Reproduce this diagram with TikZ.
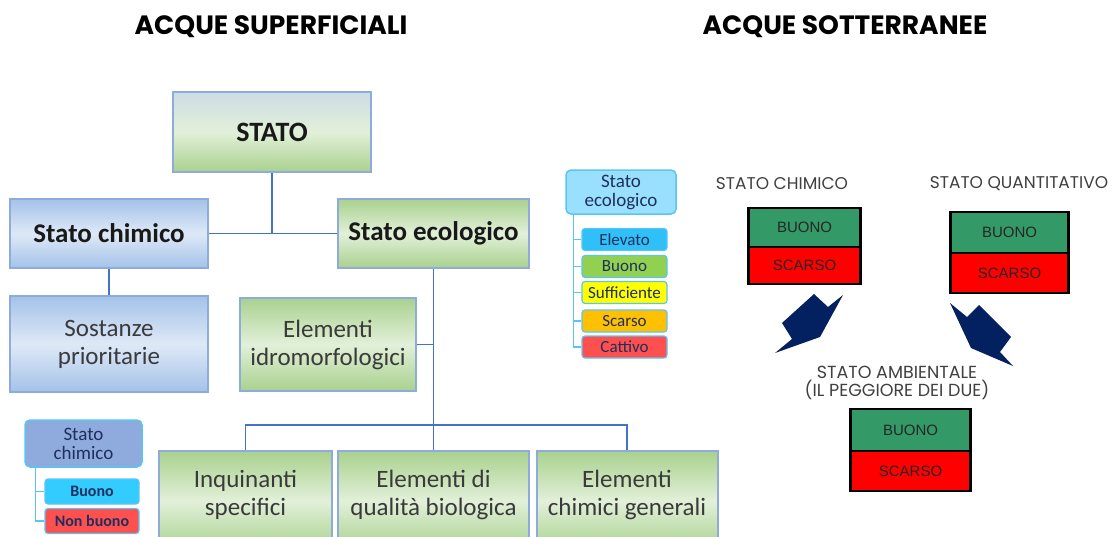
\documentclass[tikz,border=0pt]{standalone}
\usepackage{fontspec}
\setmainfont{Carlito}
\newfontfamily\headfont{Poppins}
\newfontfamily\arialfont{Liberation Sans}
\definecolor{linkblue}{HTML}{4472C4}
\definecolor{boxedge}{HTML}{8FAADC}
\definecolor{gtop}{HTML}{A9D18E}
\definecolor{gmid}{HTML}{E2F0D9}
\definecolor{stop}{HTML}{CCDCE4}
\definecolor{btop}{HTML}{A4C2E8}
\definecolor{bmid}{HTML}{DEE9F7}
\definecolor{txtgray}{HTML}{3A3A3A}
\definecolor{legedge}{HTML}{5BC5F2}
\definecolor{navytxt}{HTML}{1F2F5F}
\definecolor{hdchim}{HTML}{8FAADC}
\definecolor{hdeco}{HTML}{99E0FF}
\definecolor{cElev}{HTML}{2FC0F7}
\definecolor{cBuonoC}{HTML}{33CCFF}
\definecolor{cBuonoE}{HTML}{92D050}
\definecolor{cSuff}{HTML}{FFFF00}
\definecolor{cScar}{HTML}{FFC000}
\definecolor{cCatt}{HTML}{FF5050}
\definecolor{okgreen}{HTML}{339966}
\definecolor{arrownavy}{HTML}{032060}
\tikzset{
  conn/.style={draw=linkblue, line width=1.5pt},
  boxbase/.style={draw=boxedge, line width=2pt, inner sep=2pt, align=center},
  greenbox/.style={boxbase, top color=gtop, bottom color=gtop, middle color=gmid},
  bluebox/.style={boxbase, top color=btop, bottom color=btop, middle color=bmid},
  boldlbl/.style={font=\fontsize{27}{30}\selectfont\bfseries, text=black!90},
  plainlbl/.style={font=\fontsize{25}{28}\selectfont, text=txtgray},
  leghead/.style={draw=legedge, line width=1.5pt, rounded corners=5pt, align=center,
    font=\fontsize{19}{19}\selectfont, text=navytxt, inner sep=0pt},
  legitem/.style={draw=legedge, line width=1.2pt, rounded corners=3pt, inner sep=0pt,
    font=\fontsize{17}{18}\selectfont, text=navytxt},
  legline/.style={draw=legedge, line width=1.2pt},
  halfgood/.style={fill=okgreen, draw=black, line width=1pt, inner sep=0pt,
    font=\arialfont\fontsize{15}{18}\selectfont, text=black!85},
  halfbad/.style={halfgood, fill=red},
  frame/.style={draw=black, line width=2.5pt},
  bigarrow/.style={fill=arrownavy, draw=none},
  rlabel/.style={font=\headfont\fontsize{17}{18}\selectfont, text=black!75, align=center},
  title/.style={font=\headfont\bfseries\fontsize{26.5}{30}\selectfont, text=black}
}
\begin{document}
\begin{tikzpicture}[x=1pt, y=-1pt]
\useasboundingbox (0,0) rectangle (1114,536);
\clip (0,0) rectangle (1114,536);

% section titles
\node[title] (tsup) at (271,27) {ACQUE SUPERFICIALI};
\node[title] (tsot) at (845,27) {ACQUE SOTTERRANEE};

% ---------- surface water hierarchy ----------
\node[boxbase, top color=stop, bottom color=gtop, middle color=gmid,
      minimum width=198pt, minimum height=80pt, boldlbl,
      font=\fontsize{28}{30}\selectfont\bfseries] (stato) at (272,132) {STATO};
\node[bluebox, boldlbl, minimum width=198pt, minimum height=69pt] (chim) at (109,233.5) {Stato chimico};
\node[greenbox, boldlbl, minimum width=191pt, minimum height=69pt] (eco) at (433.5,233.5) {Stato ecologico};
\node[bluebox, plainlbl, minimum width=198pt, minimum height=96pt] (sost) at (109,344) {Sostanze\\prioritarie};
\node[greenbox, plainlbl, minimum width=176pt, minimum height=93pt] (idro) at (328,344.5) {Elementi\\idromorfologici};

\node[greenbox, plainlbl, anchor=north, minimum width=173pt, minimum height=100pt, text depth=16pt]
  (inq) at (245.5,450) {Inquinanti\\specifici};
\node[greenbox, plainlbl, anchor=north, minimum width=191pt, minimum height=100pt, text depth=16pt]
  (qual) at (433.5,450) {Elementi di\\qualità biologica};
\node[greenbox, plainlbl, anchor=north, minimum width=181pt, minimum height=100pt, text depth=16pt]
  (chimg) at (627,450) {Elementi\\chimici generali};

\draw[conn] (stato.south) -- (stato.south |- chim.east);
\draw[conn] (chim.east) -- (eco.west);
\draw[conn] (chim.south) -- (sost.north);
\draw[conn] (eco.south) -- (qual.north);
\draw[conn] (idro.east) -- (idro.east -| eco.south);
\draw[conn] (inq.north) -- ++(0,-25) -| (chimg.north);

% legend: chemical status
\node[leghead, fill=hdchim, minimum width=117pt, minimum height=47pt] (lch) at (83.5,443.5) {Stato\\chimico};
\node[legitem, fill=cBuonoC, minimum width=94pt, minimum height=25pt,
      font=\fontsize{16}{18}\selectfont\bfseries] (lchb) at (92,491.5) {Buono};
\node[legitem, fill=cCatt, minimum width=94pt, minimum height=25pt,
      font=\fontsize{16}{18}\selectfont\bfseries] (lchn) at (92,521) {Non buono};
\draw[legline] (lch.south west) ++(11,0) coordinate (lchv) |- (lchn.west);
\draw[legline] (lchv |- lchb.west) -- (lchb.west);

% legend: ecological status
\node[leghead, fill=hdeco, minimum width=110pt, minimum height=44pt] (lec) at (621,192) {Stato\\ecologico};
\node[legitem, fill=cElev, minimum width=85pt, minimum height=22pt] (le1) at (624.5,239.5) {Elevato};
\node[legitem, fill=cBuonoE, minimum width=85pt, minimum height=22pt] (le2) at (624.5,266.5) {Buono};
\node[legitem, fill=cSuff, minimum width=85pt, minimum height=22pt] (le3) at (624.5,292.5) {Sufficiente};
\node[legitem, fill=cScar, minimum width=85pt, minimum height=22pt] (le4) at (624.5,321) {Scarso};
\node[legitem, fill=cCatt, minimum width=85pt, minimum height=22pt] (le5) at (624.5,347) {Cattivo};
\draw[legline] (lec.south west) ++(8,0) coordinate (lecv) |- (le5.west);
\foreach \k in {1,2,3,4} \draw[legline] (lecv |- le\k.west) -- (le\k.west);

% ---------- groundwater ----------
\node[rlabel] (lbchim) at (782,184) {STATO CHIMICO};
\node[rlabel] (lbquan) at (1019,184) {STATO QUANTITATIVO};
\node[rlabel, font=\headfont\fontsize{17.5}{18}\selectfont] (lbamb) at (897,383) {STATO AMBIENTALE\\(IL PEGGIORE DEI DUE)};

\node[halfgood, anchor=south, minimum width=111pt, minimum height=38pt] (c1g) at (804.5,247) {BUONO};
\node[halfbad, anchor=north, minimum width=111pt, minimum height=36pt] (c1r) at (804.5,247) {SCARSO};
\draw[frame] (c1g.north west) rectangle (c1r.south east);

\node[halfgood, anchor=south, minimum width=117pt, minimum height=40pt] (c2g) at (1009.5,253) {BUONO};
\node[halfbad, anchor=north, minimum width=117pt, minimum height=39pt] (c2r) at (1009.5,253) {SCARSO};
\draw[frame] (c2g.north west) rectangle (c2r.south east);

\node[halfgood, anchor=south, minimum width=119pt, minimum height=41pt] (c3g) at (910.5,451) {BUONO};
\node[halfbad, anchor=north, minimum width=119pt, minimum height=39pt] (c3r) at (910.5,451) {SCARSO};
\draw[frame] (c3g.north west) rectangle (c3r.south east);

% block arrows pointing to the combined status
\fill[bigarrow] (775,353) -- (820,337) -- (843,295) -- (828,307) -- (814,294) -- (782,323) -- (792,339) -- cycle;
\fill[bigarrow] (950,303) -- (967,317) -- (979,305) -- (1011,337) -- (1000,352) -- (1013,366) -- (971,348) -- cycle;
\end{tikzpicture}
\end{document}
